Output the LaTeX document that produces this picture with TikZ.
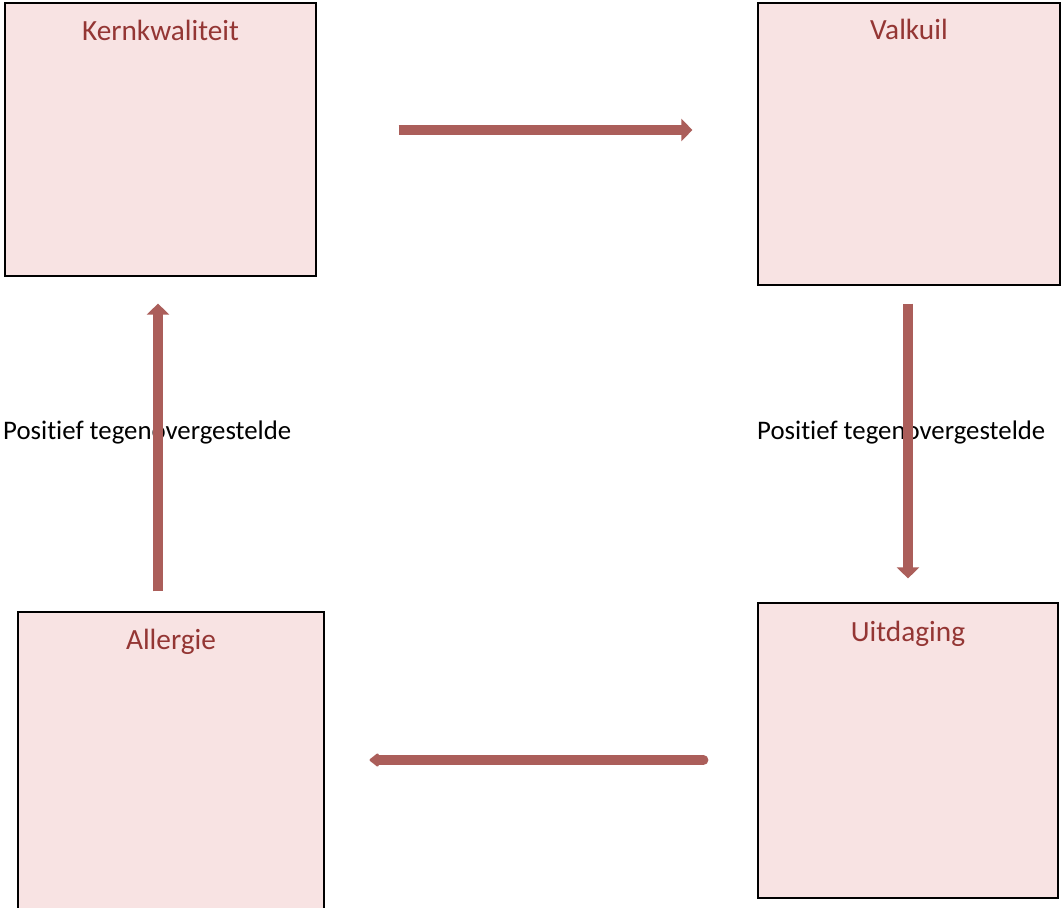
\documentclass[tikz,border=0pt]{standalone}
\usepackage{fontspec}
\setmainfont{Carlito}[Ligatures=NoCommon]
\usetikzlibrary{arrows.meta,calc}
\definecolor{boxfill}{RGB}{248,227,227}
\definecolor{titlered}{RGB}{148,54,52}
\definecolor{arrowred}{RGB}{171,94,90}
\tikzset{
  box/.style={draw=black, line width=1.2pt, fill=boxfill, rectangle, inner sep=0pt},
  boxtitle/.style={text=titlered, font=\fontsize{29.3}{34}\selectfont, anchor=base, inner sep=0pt},
  sidelabel/.style={text=black, font=\fontsize{26.8}{31}\selectfont, anchor=base west, inner sep=0pt},
  bigarrow/.style={draw=arrowred, line width=10pt, -{Triangle[width=22pt,length=11pt]}},
  smallarrow/.style={draw=arrowred, line width=10pt, line cap=round, -{Triangle[width=15pt,length=10pt,round]}},
}
\begin{document}
\begin{tikzpicture}[x=1pt,y=-1pt]
\clip (0,0) rectangle (1061,908);
\fill[white] (0,0) rectangle (1061,908);
% boxes
\node[box, minimum width=311pt, minimum height=273pt] (kern) at (160.5,139.5) {};
\node[box, minimum width=302pt, minimum height=282pt] (valk) at (909,144) {};
\node[box, minimum width=300pt, minimum height=295pt] (uit) at (908,750.5) {};
\node[box, minimum width=306pt, minimum height=304pt] (aller) at (171,764) {};
% titles
\node[boxtitle] (tkern) at ([yshift=-38pt]kern.north) {Kernkwaliteit};
\node[boxtitle] (tvalk) at ([yshift=-37pt]valk.north) {Valkuil};
\node[boxtitle] (tuit) at ([yshift=-39pt]uit.north) {Uitdaging};
\node[boxtitle] (taller) at ([yshift=-38pt]aller.north) {Allergie};
% side labels
\node[sidelabel] (lleft) at (3,439) {Positief tegenovergestelde};
\node[sidelabel] (lright) at (757,439) {Positief tegenovergestelde};
% connectors
\draw[bigarrow, shorten <=82pt, shorten >=65pt] ($(kern.east |- 0,130)$) -- ($(valk.west |- 0,130)$);
\draw[bigarrow, shorten <=18pt, shorten >=24pt] ($(valk.south -| 908,0)$) -- ($(uit.north -| 908,0)$);
\draw[smallarrow, shorten <=54pt, shorten >=45pt] ($(uit.west |- 0,760)$) -- ($(aller.east |- 0,760)$);
\draw[bigarrow, shorten <=20pt, shorten >=27pt] ($(aller.north -| 158,0)$) -- ($(kern.south -| 158,0)$);
\end{tikzpicture}
\end{document}
